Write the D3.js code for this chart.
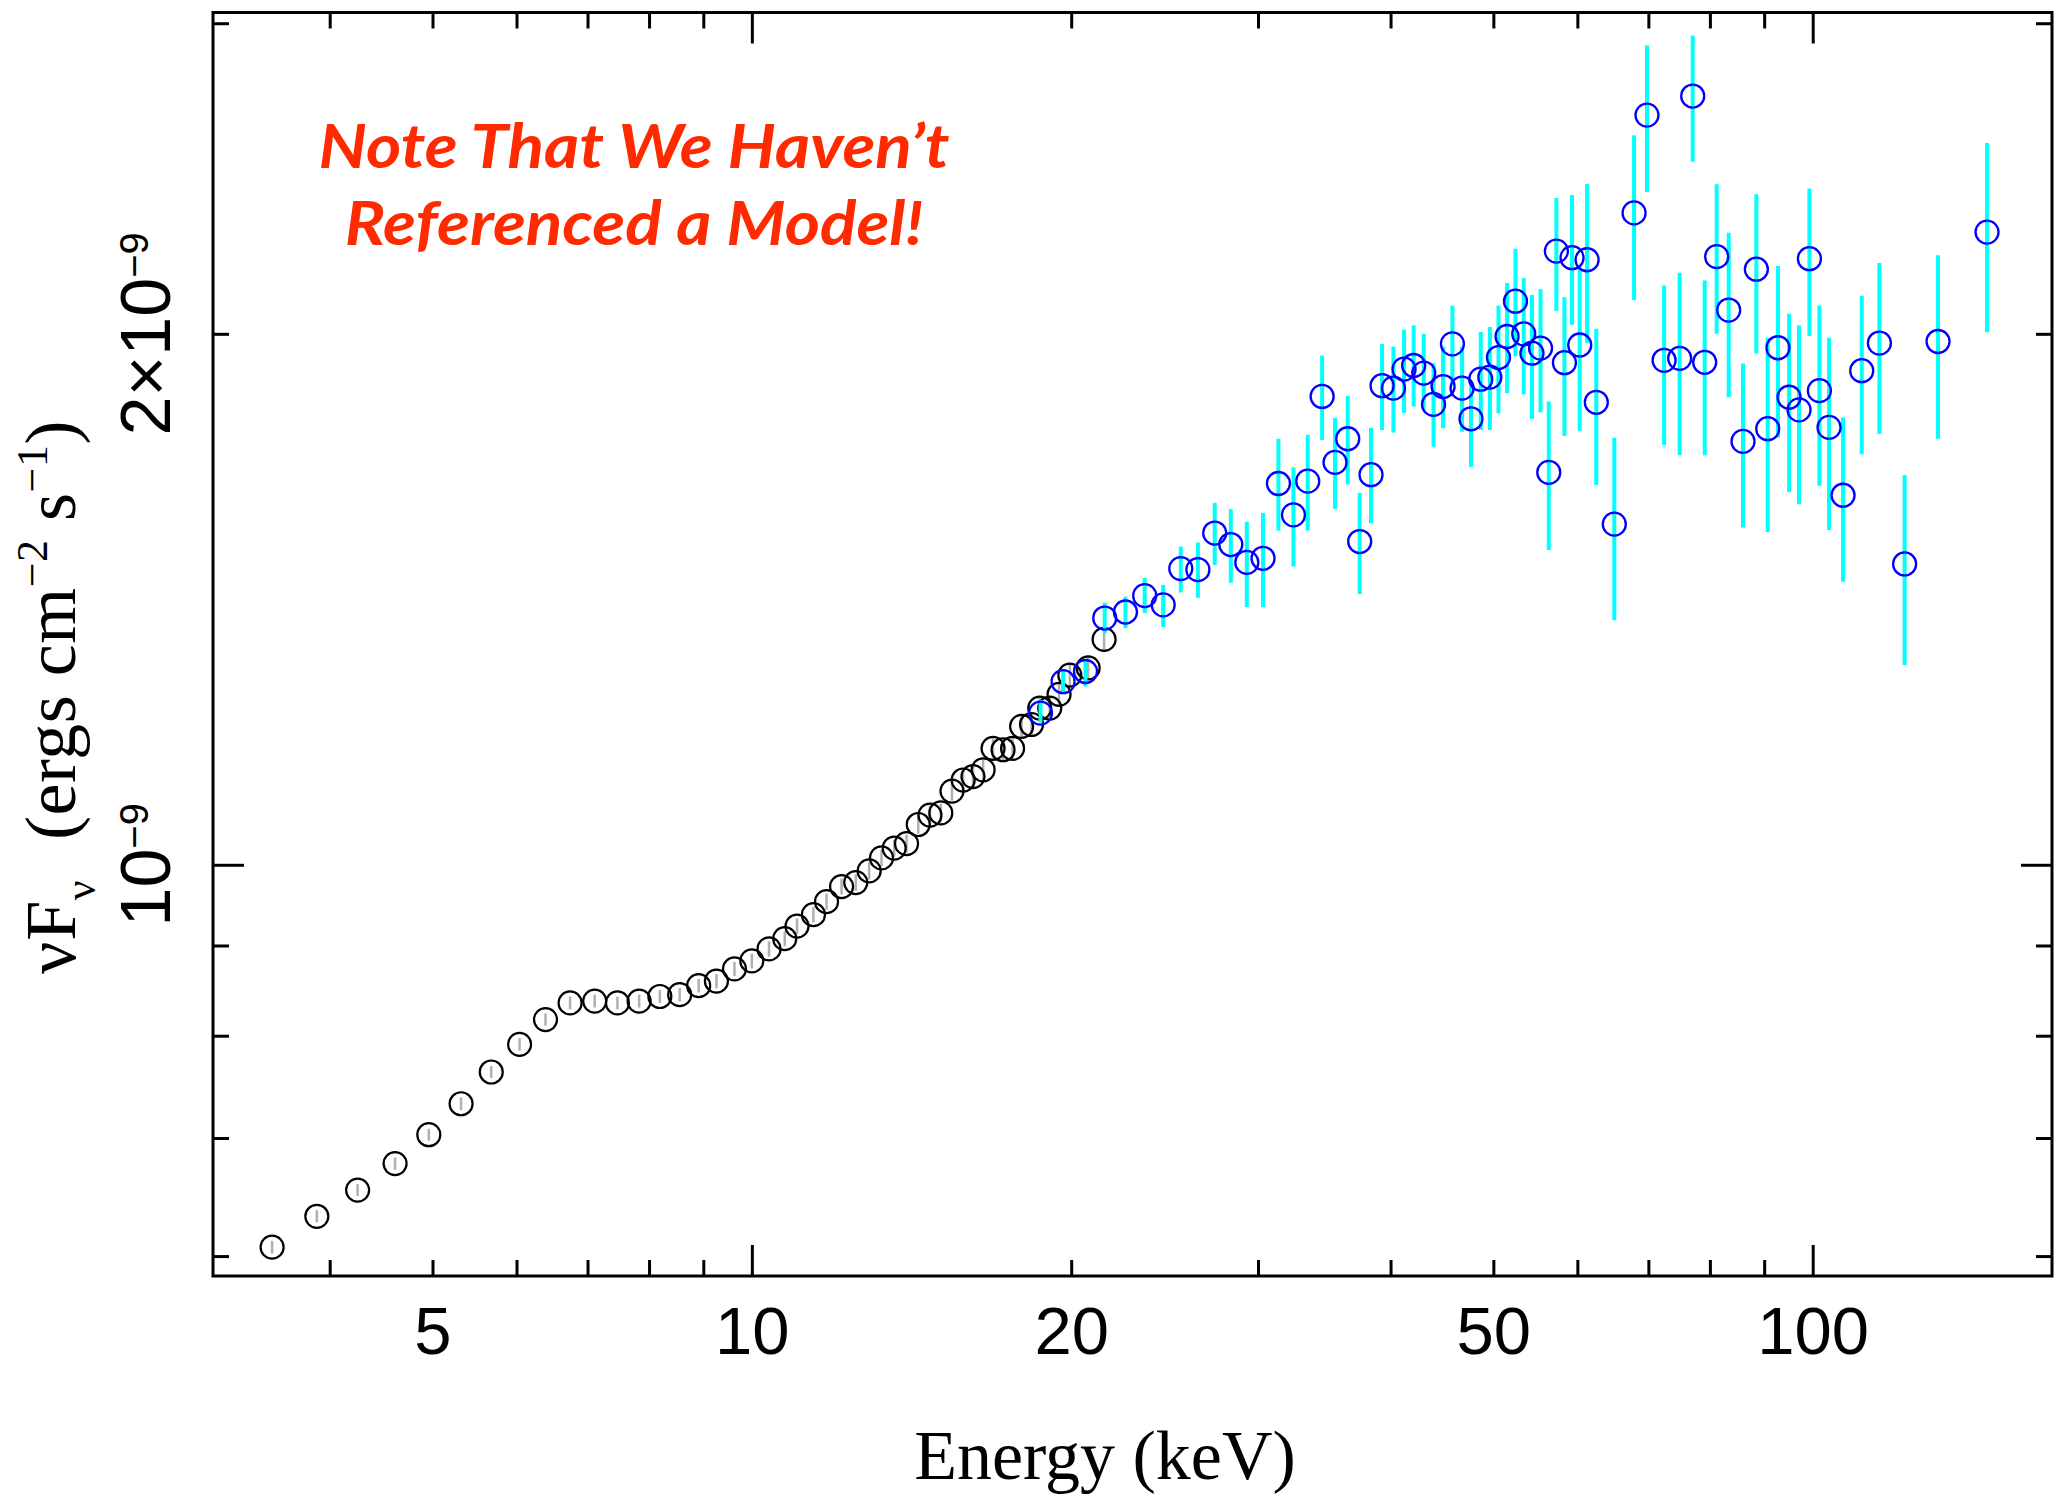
<!DOCTYPE html>
<html lang="en">
<head>
<meta charset="UTF-8">
<script src="https://d3js.org/d3.v7.min.js"></script>
<title>Unfolded spectrum</title>
<style>
  body { margin: 0; background: #fff; }
  .ticklabel { font-family: 'Liberation Sans', Arial, sans-serif; fill: #000; }
  .title { font-family: 'Liberation Serif', 'Times New Roman', serif; fill: #000; }
  .note { font-family: Lato, 'Open Sans', sans-serif; font-style: italic; font-weight: 700; fill: #ff2a00; }
</style>
</head>
<body>
<script>
const width = 2061, height = 1499;

// low energy instrument (black circles, grey errors) - keV / 1e-9 ergs cm^-2 s^-1
const energyK = [3.53, 3.89, 4.25, 4.61, 4.96, 5.32, 5.68, 6.04, 6.39, 6.74, 7.11, 7.47, 7.83, 8.19, 8.55, 8.91,
  9.26, 9.63, 10.0, 10.38, 10.74, 11.03, 11.43, 11.76, 12.15, 12.53, 12.90, 13.25, 13.62, 13.99, 14.35, 14.72,
  15.07, 15.44, 15.82, 16.16, 16.52, 16.88, 17.25, 17.61, 17.96, 18.35, 18.68, 19.09, 19.48, 19.94, 20.75, 21.48];
const fluxK = [0.607, 0.632, 0.654, 0.677, 0.703, 0.732, 0.763, 0.791, 0.817, 0.835, 0.837, 0.835, 0.837, 0.842, 0.844, 0.854,
  0.859, 0.873, 0.882, 0.896, 0.908, 0.923, 0.937, 0.953, 0.972, 0.977, 0.992, 1.009, 1.022, 1.028, 1.054, 1.067,
  1.070, 1.101, 1.117, 1.122, 1.132, 1.164, 1.162, 1.164, 1.198, 1.201, 1.227, 1.227, 1.249, 1.281, 1.293, 1.342];
const errK = [0.005, 0.005, 0.005, 0.0055, 0.0055, 0.006, 0.006, 0.0065, 0.0065, 0.007, 0.007, 0.007, 0.007, 0.007, 0.0075, 0.0075,
  0.008, 0.008, 0.0085, 0.009, 0.009, 0.0095, 0.0095, 0.01, 0.01, 0.0105, 0.011, 0.011, 0.0115, 0.012, 0.0125, 0.013,
  0.013, 0.0135, 0.014, 0.0145, 0.015, 0.0155, 0.0155, 0.016, 0.0165, 0.017, 0.0175, 0.0175, 0.018, 0.0185, 0.019, 0.02];

// high energy instrument (blue circles, cyan errors)
const energyB = [18.71, 19.65, 20.63, 21.51, 22.50, 23.46, 24.42, 25.37, 26.33, 27.31, 28.28, 29.28, 30.33, 31.36, 32.40, 33.42,
  34.48, 35.46, 36.45, 37.41, 38.34, 39.27, 40.25, 41.19, 42.06, 42.99, 43.91, 44.83, 45.75, 46.72, 47.63, 48.65,
  49.62, 50.56, 51.51, 52.46, 53.41, 54.37, 55.39, 56.39, 57.33, 58.34, 59.31, 60.31, 61.28, 62.52, 65.01, 67.86,
  69.79, 72.43, 74.92, 77.07, 79.10, 81.19, 83.33, 85.96, 88.49, 90.70, 92.74, 95.00, 97.08, 99.29, 101.46, 103.61,
  106.81, 111.23, 115.58, 122.08, 131.26, 145.99];
const fluxB = [1.219, 1.270, 1.287, 1.380, 1.391, 1.421, 1.404, 1.472, 1.470, 1.542, 1.519, 1.484, 1.492, 1.645, 1.579, 1.650,
  1.843, 1.691, 1.744, 1.525, 1.664, 1.869, 1.863, 1.910, 1.919, 1.900, 1.824, 1.867, 1.974, 1.863, 1.790, 1.885,
  1.890, 1.939, 1.993, 2.087, 2.000, 1.950, 1.963, 1.669, 2.228, 1.926, 2.209, 1.971, 2.203, 1.829, 1.560, 2.342,
  2.661, 1.932, 1.937, 2.728, 1.927, 2.212, 2.063, 1.738, 2.176, 1.767, 1.964, 1.841, 1.811, 2.206, 1.857, 1.770,
  1.620, 1.906, 1.976, 1.481, 1.980, 2.284];
const lowB = [1.204, 1.252, 1.262, 1.353, 1.362, 1.389, 1.364, 1.427, 1.417, 1.479, 1.445, 1.400, 1.400, 1.547, 1.476, 1.547,
  1.741, 1.591, 1.643, 1.424, 1.562, 1.764, 1.758, 1.804, 1.819, 1.813, 1.726, 1.768, 1.871, 1.760, 1.681, 1.764,
  1.764, 1.803, 1.851, 1.942, 1.848, 1.790, 1.805, 1.508, 2.061, 1.750, 2.024, 1.762, 1.976, 1.642, 1.376, 2.090,
  2.407, 1.730, 1.707, 2.504, 1.707, 2.000, 1.841, 1.553, 1.949, 1.544, 1.747, 1.627, 1.601, 1.994, 1.640, 1.548,
  1.447, 1.709, 1.755, 1.298, 1.744, 2.004];
const highB = [1.240, 1.290, 1.306, 1.408, 1.419, 1.454, 1.441, 1.515, 1.523, 1.604, 1.591, 1.565, 1.583, 1.744, 1.680, 1.753,
  1.944, 1.792, 1.844, 1.625, 1.769, 1.974, 1.967, 2.011, 2.022, 2.000, 1.925, 1.967, 2.075, 1.967, 1.867, 2.005,
  2.018, 2.075, 2.137, 2.235, 2.151, 2.104, 2.120, 1.831, 2.388, 2.098, 2.397, 2.180, 2.432, 2.013, 1.746, 2.592,
  2.914, 2.130, 2.166, 2.952, 2.144, 2.431, 2.282, 1.924, 2.400, 1.990, 2.185, 2.053, 2.022, 2.418, 2.075, 1.990,
  1.793, 2.102, 2.194, 1.663, 2.216, 2.566];

// ticks
const xMajor = [10, 100];
const xMinor = [4, 5, 6, 7, 8, 9, 20, 30, 40, 50, 60, 70, 80, 90];
const xLabels = [5, 10, 20, 50, 100];
const yMajor = [1];
const yMinor = [0.6, 0.7, 0.8, 0.9, 2, 3];
const yLabels = [1, 2];
const noteLines = ["Note That We Haven\u2019t", "Referenced a Model!"];

const svg = d3.select("body").append("svg")
    .attr("width", width).attr("height", height);

const x = d3.scaleLog().domain([3.105, 168.1]).range([213, 2052]);
const y = d3.scaleLog().domain([0.5846, 3.0423]).range([1276, 12.5]);
const [x0, x1] = x.range(), [y0, y1] = y.range();

// ticks on all four sides, pointing inwards
[[xMinor, 16], [xMajor, 31]].forEach(([vals, len]) => {
    svg.append("g").attr("class", "ticks").attr("transform", `translate(0,${y0})`)
        .call(d3.axisTop(x).tickValues(vals).tickSize(len).tickFormat(""));
    svg.append("g").attr("class", "ticks").attr("transform", `translate(0,${y1})`)
        .call(d3.axisBottom(x).tickValues(vals).tickSize(len).tickFormat(""));
});
[[yMinor, 16], [yMajor, 31]].forEach(([vals, len]) => {
    svg.append("g").attr("class", "ticks").attr("transform", `translate(${x0},0)`)
        .call(d3.axisRight(y).tickValues(vals).tickSize(len).tickFormat(""));
    svg.append("g").attr("class", "ticks").attr("transform", `translate(${x1},0)`)
        .call(d3.axisLeft(y).tickValues(vals).tickSize(len).tickFormat(""));
});
svg.selectAll(".ticks .domain").remove();
svg.selectAll(".ticks line").attr("stroke", "#000").attr("stroke-width", 3);

svg.append("rect")
    .attr("x", x0).attr("y", y1)
    .attr("width", x1 - x0).attr("height", y0 - y1)
    .attr("fill", "none").attr("stroke", "#000").attr("stroke-width", 3);

// x tick labels
const xl = svg.append("g").attr("transform", `translate(0,${y0})`)
    .call(d3.axisBottom(x).tickValues(xLabels).tickSize(0).tickPadding(30).tickFormat(d3.format("d")));
xl.select(".domain").remove();
xl.attr("font-size", null).attr("font-family", null);
xl.selectAll("text").attr("class", "ticklabel").attr("font-size", 67);

// y tick labels, rotated, with superscript exponent
svg.append("g").selectAll("text").data(yLabels).join("text")
    .attr("class", "ticklabel")
    .attr("transform", d => `translate(170,${y(d)}) rotate(-90)`)
    .attr("text-anchor", "middle")
    .attr("font-size", 70)
    .each(function(d) {
        const t = d3.select(this);
        t.append("tspan").text(d === 1 ? "10" : d + "\u00d710");
        t.append("tspan").attr("font-size", 40).attr("dy", -22).text("\u22129");
    });

// axis titles
svg.append("text").attr("class", "title")
    .attr("x", 1105).attr("y", 1479)
    .attr("text-anchor", "middle").attr("font-size", 70)
    .text("Energy (keV)");

const yt = svg.append("text").attr("class", "title")
    .attr("transform", "translate(75,697) rotate(-90)")
    .attr("text-anchor", "middle").attr("font-size", 72)
    .attr("letter-spacing", 0.5);
yt.append("tspan").text("\u03bdF");
yt.append("tspan").attr("font-size", 44).attr("dy", 20).text("\u03bd");
yt.append("tspan").attr("dy", -20).attr("dx", 40).text("(ergs cm");
yt.append("tspan").attr("font-size", 44).attr("dy", -28).text("\u22122");
yt.append("tspan").attr("dy", 28).text(" s");
yt.append("tspan").attr("font-size", 44).attr("dy", -28).text("\u22121");
yt.append("tspan").attr("dy", 28).text(")");

// data
const black = energyK.map((e, i) => ({e, f: fluxK[i], lo: fluxK[i] - errK[i], hi: fluxK[i] + errK[i]}));
const blue = energyB.map((e, i) => ({e, f: fluxB[i], lo: lowB[i], hi: highB[i]}));

const plot = svg.append("g");
plot.append("g").selectAll("line").data(black).join("line")
    .attr("x1", d => x(d.e)).attr("x2", d => x(d.e))
    .attr("y1", d => y(d.lo)).attr("y2", d => y(d.hi))
    .attr("stroke", "#b0b0b0").attr("stroke-width", 2.5);
plot.append("g").selectAll("circle").data(black).join("circle")
    .attr("cx", d => x(d.e)).attr("cy", d => y(d.f)).attr("r", 11.5)
    .attr("fill", "none").attr("stroke", "#000").attr("stroke-width", 2.2);

plot.append("g").selectAll("line").data(blue).join("line")
    .attr("x1", d => x(d.e)).attr("x2", d => x(d.e))
    .attr("y1", d => y(d.lo)).attr("y2", d => y(d.hi))
    .attr("stroke", "#00ffff").attr("stroke-width", 4);
plot.append("g").selectAll("circle").data(blue).join("circle")
    .attr("cx", d => x(d.e)).attr("cy", d => y(d.f)).attr("r", 11.5)
    .attr("fill", "none").attr("stroke", "#0000ff").attr("stroke-width", 2.3);

// annotation: one text, two lines, squeezed to the width of the original condensed face
const noteY = [168, 245];
const note = svg.append("text").attr("class", "note")
    .attr("text-anchor", "middle").attr("font-size", 62);
note.selectAll("tspan").data(noteLines).join("tspan")
    .attr("x", 0).attr("y", (d, i) => noteY[i])
    .text(d => d);
const w1 = note.select("tspan").node().getComputedTextLength();
note.attr("transform", `translate(634,0) scale(${631 / w1},1)`);
</script>
</body>
</html>
